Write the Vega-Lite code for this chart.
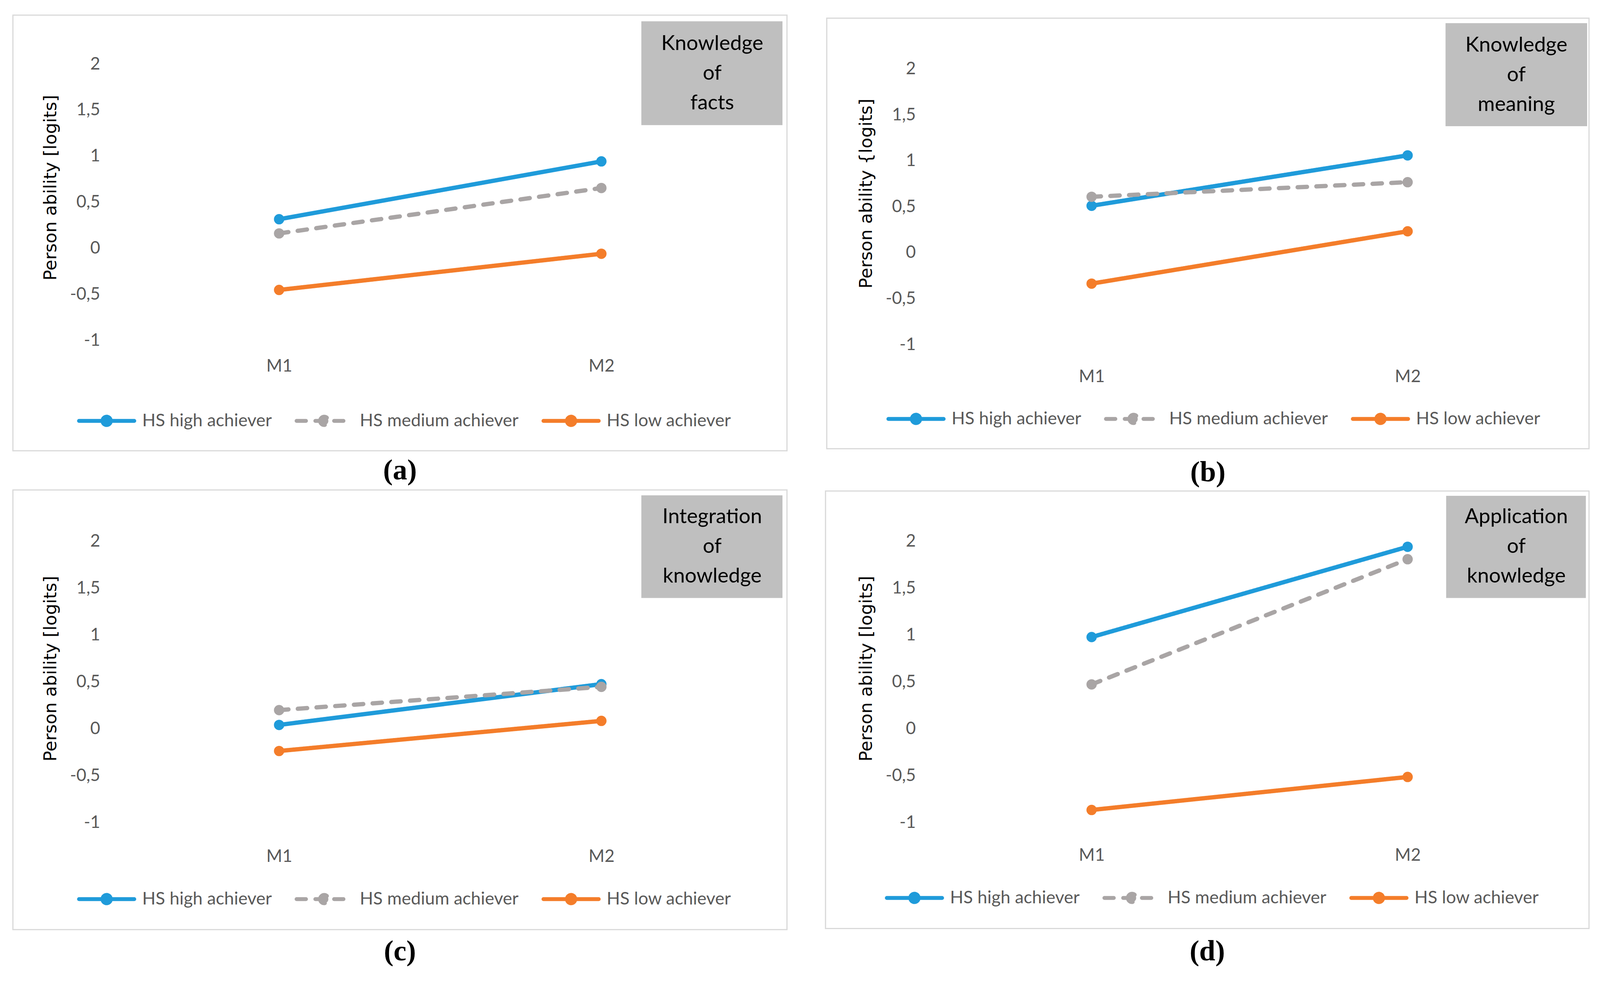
{
  "$schema": "https://vega.github.io/schema/vega-lite/v6.json",
  "background": "white",
  "padding": {"left": 31, "top": 37, "right": 0, "bottom": 0},
  "datasets": {
    "pts": [
      {"panel": "a", "session": "M1", "group": "HS high achiever", "value": 0.315},
      {"panel": "a", "session": "M2", "group": "HS high achiever", "value": 0.943},
      {"panel": "a", "session": "M1", "group": "HS medium achiever", "value": 0.161},
      {"panel": "a", "session": "M2", "group": "HS medium achiever", "value": 0.654},
      {"panel": "a", "session": "M1", "group": "HS low achiever", "value": -0.453},
      {"panel": "a", "session": "M2", "group": "HS low achiever", "value": -0.06},
      {"panel": "b", "session": "M1", "group": "HS high achiever", "value": 0.512},
      {"panel": "b", "session": "M2", "group": "HS high achiever", "value": 1.061},
      {"panel": "b", "session": "M1", "group": "HS medium achiever", "value": 0.61},
      {"panel": "b", "session": "M2", "group": "HS medium achiever", "value": 0.769},
      {"panel": "b", "session": "M1", "group": "HS low achiever", "value": -0.336},
      {"panel": "b", "session": "M2", "group": "HS low achiever", "value": 0.234},
      {"panel": "c", "session": "M1", "group": "HS high achiever", "value": 0.04},
      {"panel": "c", "session": "M2", "group": "HS high achiever", "value": 0.475},
      {"panel": "c", "session": "M1", "group": "HS medium achiever", "value": 0.198},
      {"panel": "c", "session": "M2", "group": "HS medium achiever", "value": 0.446},
      {"panel": "c", "session": "M1", "group": "HS low achiever", "value": -0.238},
      {"panel": "c", "session": "M2", "group": "HS low achiever", "value": 0.083},
      {"panel": "d", "session": "M1", "group": "HS high achiever", "value": 0.977},
      {"panel": "d", "session": "M2", "group": "HS high achiever", "value": 1.94},
      {"panel": "d", "session": "M1", "group": "HS medium achiever", "value": 0.472},
      {"panel": "d", "session": "M2", "group": "HS medium achiever", "value": 1.807},
      {"panel": "d", "session": "M1", "group": "HS low achiever", "value": -0.867},
      {"panel": "d", "session": "M2", "group": "HS low achiever", "value": -0.515}
    ]
  },
  "columns": 2,
  "align": "each",
  "spacing": {"row": 4, "column": 94},
  "concat": [
    {
      "width": 1650, "height": 707,
      "title": {"text": "(a)"},
      "layer": [
        {
          "data": {"values": [{"frame": 1}]},
          "mark": {"type": "rect", "fill": "transparent", "stroke": "#D9D9D9", "strokeWidth": 3},
          "encoding": {
            "x": {"datum": -0.163, "type": "quantitative", "scale": {"domain": [0, 1]}, "axis": null},
            "x2": {"datum": 1.038},
            "y": {"datum": 1.177, "type": "quantitative", "scale": {"domain": [0, 1]}, "axis": null},
            "y2": {"datum": -0.4}
          }
        },
        {
          "data": {"values": [{"box": 1}]},
          "mark": {"type": "rect", "fill": "#BFBFBF"},
          "encoding": {
            "x": {"datum": 0.812, "type": "quantitative", "scale": {"domain": [0, 1]}, "axis": null},
            "x2": {"datum": 1.031},
            "y": {"datum": 1.155, "type": "quantitative", "scale": {"domain": [0, 1]}, "axis": null},
            "y2": {"datum": 0.779}
          }
        },
        {
          "data": {"values": [{"label": ["Knowledge", "of", "facts"]}]},
          "mark": {"type": "text", "font": "Lato", "fontSize": 53, "color": "#000000", "align": "center", "baseline": "middle", "lineHeight": 76},
          "encoding": {
            "x": {"datum": 0.922, "type": "quantitative", "scale": {"domain": [0, 1]}, "axis": null},
            "y": {"datum": 1.074, "type": "quantitative", "scale": {"domain": [0, 1]}, "axis": null},
            "text": {"field": "label", "type": "nominal"}
          }
        },
        {
          "data": {"name": "pts"},
          "transform": [{"filter": "datum.panel === 'a'"}],
          "mark": {"type": "line", "strokeWidth": 11, "strokeCap": "round", "point": {"filled": true, "size": 700, "opacity": 1}},
          "encoding": {
            "x": {"field": "session", "type": "nominal", "scale": {"type": "point", "padding": 0.5}, "axis": {"title": null, "labelPadding": 44}},
            "y": {"field": "value", "type": "quantitative", "scale": {"domain": [-1, 2], "nice": false, "zero": false}, "axis": {"title": "Person ability [logits]", "titleY": 316, "values": [-1, -0.5, 0, 0.5, 1, 1.5, 2], "labelExpr": "replace(toString(datum.value), '.', ',')"}},
            "color": {"field": "group", "type": "nominal", "scale": {"domain": ["HS high achiever", "HS medium achiever", "HS low achiever"], "range": ["#1F9BDA", "#A9A5A5", "#F47D2A"]},
              "legend": {"orient": "none", "legendX": -105, "legendY": 837,
                "encode": {"symbols": {"update": {
                  "fill": {"signal": "datum.value === 'HS high achiever' ? '#1F9BDA' : datum.value === 'HS medium achiever' ? '#A9A5A5' : '#F47D2A'"},
                  "strokeDash": {"signal": "datum.value === 'HS medium achiever' ? [32, 22] : [1, 0]"},
                  "strokeCap": {"value": "round"}}}}}},
            "strokeDash": {"field": "group", "type": "nominal", "scale": {"domain": ["HS high achiever", "HS medium achiever", "HS low achiever"], "range": [[1, 0], [24, 24], [1, 0]]}, "legend": null}
          }
        }
      ],
      "resolve": {"scale": {"x": "independent", "y": "independent"}}
    },
    {
      "width": 1618, "height": 718,
      "title": {"text": "(b)", "offset": 24},
      "layer": [
        {
          "data": {"values": [{"frame": 1}]},
          "mark": {"type": "rect", "fill": "transparent", "stroke": "#D9D9D9", "strokeWidth": 3},
          "encoding": {
            "x": {"datum": -0.169, "type": "quantitative", "scale": {"domain": [0, 1]}, "axis": null},
            "x2": {"datum": 1.037},
            "y": {"datum": 1.1635, "type": "quantitative", "scale": {"domain": [0, 1]}, "axis": null},
            "y2": {"datum": -0.3712}
          }
        },
        {
          "data": {"values": [{"box": 1}]},
          "mark": {"type": "rect", "fill": "#BFBFBF"},
          "encoding": {
            "x": {"datum": 0.81, "type": "quantitative", "scale": {"domain": [0, 1]}, "axis": null},
            "x2": {"datum": 1.034},
            "y": {"datum": 1.1459, "type": "quantitative", "scale": {"domain": [0, 1]}, "axis": null},
            "y2": {"datum": 0.7786}
          }
        },
        {
          "data": {"values": [{"label": ["Knowledge", "of", "meaning"]}]},
          "mark": {"type": "text", "font": "Lato", "fontSize": 53, "color": "#000000", "align": "center", "baseline": "middle", "lineHeight": 76},
          "encoding": {
            "x": {"datum": 0.922, "type": "quantitative", "scale": {"domain": [0, 1]}, "axis": null},
            "y": {"datum": 1.0673, "type": "quantitative", "scale": {"domain": [0, 1]}, "axis": null},
            "text": {"field": "label", "type": "nominal"}
          }
        },
        {
          "data": {"name": "pts"},
          "transform": [{"filter": "datum.panel === 'b'"}],
          "mark": {"type": "line", "strokeWidth": 11, "strokeCap": "round", "point": {"filled": true, "size": 700, "opacity": 1}},
          "encoding": {
            "x": {"field": "session", "type": "nominal", "scale": {"type": "point", "padding": 0.5}, "axis": {"title": null, "labelPadding": 60}},
            "y": {"field": "value", "type": "quantitative", "scale": {"domain": [-1, 2.0553], "nice": false, "zero": false}, "axis": {"title": "Person ability {logits]", "titleY": 331, "values": [-1, -0.5, 0, 0.5, 1, 1.5, 2], "labelExpr": "replace(toString(datum.value), '.', ',')"}},
            "color": {"field": "group", "type": "nominal", "scale": {"domain": ["HS high achiever", "HS medium achiever", "HS low achiever"], "range": ["#1F9BDA", "#A9A5A5", "#F47D2A"]},
              "legend": {"orient": "none", "legendX": -121, "legendY": 832,
                "encode": {"symbols": {"update": {
                  "fill": {"signal": "datum.value === 'HS high achiever' ? '#1F9BDA' : datum.value === 'HS medium achiever' ? '#A9A5A5' : '#F47D2A'"},
                  "strokeDash": {"signal": "datum.value === 'HS medium achiever' ? [32, 22] : [1, 0]"},
                  "strokeCap": {"value": "round"}}}}}},
            "strokeDash": {"field": "group", "type": "nominal", "scale": {"domain": ["HS high achiever", "HS medium achiever", "HS low achiever"], "range": [[1, 0], [24, 24], [1, 0]]}, "legend": null}
          }
        }
      ],
      "resolve": {"scale": {"x": "independent", "y": "independent"}}
    },
    {
      "width": 1650, "height": 720,
      "title": {"text": "(c)", "offset": 19},
      "layer": [
        {
          "data": {"values": [{"frame": 1}]},
          "mark": {"type": "rect", "fill": "transparent", "stroke": "#D9D9D9", "strokeWidth": 3},
          "encoding": {
            "x": {"datum": -0.163, "type": "quantitative", "scale": {"domain": [0, 1]}, "axis": null},
            "x2": {"datum": 1.038},
            "y": {"datum": 1.182, "type": "quantitative", "scale": {"domain": [0, 1]}, "axis": null},
            "y2": {"datum": -0.381}
          }
        },
        {
          "data": {"values": [{"box": 1}]},
          "mark": {"type": "rect", "fill": "#BFBFBF"},
          "encoding": {
            "x": {"datum": 0.812, "type": "quantitative", "scale": {"domain": [0, 1]}, "axis": null},
            "x2": {"datum": 1.031},
            "y": {"datum": 1.163, "type": "quantitative", "scale": {"domain": [0, 1]}, "axis": null},
            "y2": {"datum": 0.798}
          }
        },
        {
          "data": {"values": [{"label": ["Integration", "of", "knowledge"]}]},
          "mark": {"type": "text", "font": "Lato", "fontSize": 53, "color": "#000000", "align": "center", "baseline": "middle", "lineHeight": 76},
          "encoding": {
            "x": {"datum": 0.922, "type": "quantitative", "scale": {"domain": [0, 1]}, "axis": null},
            "y": {"datum": 1.086, "type": "quantitative", "scale": {"domain": [0, 1]}, "axis": null},
            "text": {"field": "label", "type": "nominal"}
          }
        },
        {
          "data": {"name": "pts"},
          "transform": [{"filter": "datum.panel === 'c'"}],
          "mark": {"type": "line", "strokeWidth": 11, "strokeCap": "round", "point": {"filled": true, "size": 700, "opacity": 1}},
          "encoding": {
            "x": {"field": "session", "type": "nominal", "scale": {"type": "point", "padding": 0.5}, "axis": {"title": null, "labelPadding": 65}},
            "y": {"field": "value", "type": "quantitative", "scale": {"domain": [-1, 2], "nice": false, "zero": false}, "axis": {"title": "Person ability [logits]", "titleY": 326, "values": [-1, -0.5, 0, 0.5, 1, 1.5, 2], "labelExpr": "replace(toString(datum.value), '.', ',')"}},
            "color": {"field": "group", "type": "nominal", "scale": {"domain": ["HS high achiever", "HS medium achiever", "HS low achiever"], "range": ["#1F9BDA", "#A9A5A5", "#F47D2A"]},
              "legend": {"orient": "none", "legendX": -105, "legendY": 840,
                "encode": {"symbols": {"update": {
                  "fill": {"signal": "datum.value === 'HS high achiever' ? '#1F9BDA' : datum.value === 'HS medium achiever' ? '#A9A5A5' : '#F47D2A'"},
                  "strokeDash": {"signal": "datum.value === 'HS medium achiever' ? [32, 22] : [1, 0]"},
                  "strokeCap": {"value": "round"}}}}}},
            "strokeDash": {"field": "group", "type": "nominal", "scale": {"domain": ["HS high achiever", "HS medium achiever", "HS low achiever"], "range": [[1, 0], [24, 24], [1, 0]]}, "legend": null}
          }
        }
      ],
      "resolve": {"scale": {"x": "independent", "y": "independent"}}
    },
    {
      "width": 1618, "height": 720,
      "title": {"text": "(d)", "offset": 22},
      "layer": [
        {
          "data": {"values": [{"frame": 1}]},
          "mark": {"type": "rect", "fill": "transparent", "stroke": "#D9D9D9", "strokeWidth": 3},
          "encoding": {
            "x": {"datum": -0.171, "type": "quantitative", "scale": {"domain": [0, 1]}, "axis": null},
            "x2": {"datum": 1.037},
            "y": {"datum": 1.178, "type": "quantitative", "scale": {"domain": [0, 1]}, "axis": null},
            "y2": {"datum": -0.377}
          }
        },
        {
          "data": {"values": [{"box": 1}]},
          "mark": {"type": "rect", "fill": "#BFBFBF"},
          "encoding": {
            "x": {"datum": 0.811, "type": "quantitative", "scale": {"domain": [0, 1]}, "axis": null},
            "x2": {"datum": 1.032},
            "y": {"datum": 1.161, "type": "quantitative", "scale": {"domain": [0, 1]}, "axis": null},
            "y2": {"datum": 0.798}
          }
        },
        {
          "data": {"values": [{"label": ["Application", "of", "knowledge"]}]},
          "mark": {"type": "text", "font": "Lato", "fontSize": 53, "color": "#000000", "align": "center", "baseline": "middle", "lineHeight": 76},
          "encoding": {
            "x": {"datum": 0.922, "type": "quantitative", "scale": {"domain": [0, 1]}, "axis": null},
            "y": {"datum": 1.086, "type": "quantitative", "scale": {"domain": [0, 1]}, "axis": null},
            "text": {"field": "label", "type": "nominal"}
          }
        },
        {
          "data": {"name": "pts"},
          "transform": [{"filter": "datum.panel === 'd'"}],
          "mark": {"type": "line", "strokeWidth": 11, "strokeCap": "round", "point": {"filled": true, "size": 700, "opacity": 1}},
          "encoding": {
            "x": {"field": "session", "type": "nominal", "scale": {"type": "point", "padding": 0.5}, "axis": {"title": null, "labelPadding": 62}},
            "y": {"field": "value", "type": "quantitative", "scale": {"domain": [-1, 2], "nice": false, "zero": false}, "axis": {"title": "Person ability [logits]", "titleY": 326, "values": [-1, -0.5, 0, 0.5, 1, 1.5, 2], "labelExpr": "replace(toString(datum.value), '.', ',')"}},
            "color": {"field": "group", "type": "nominal", "scale": {"domain": ["HS high achiever", "HS medium achiever", "HS low achiever"], "range": ["#1F9BDA", "#A9A5A5", "#F47D2A"]},
              "legend": {"orient": "none", "legendX": -125, "legendY": 837,
                "encode": {"symbols": {"update": {
                  "fill": {"signal": "datum.value === 'HS high achiever' ? '#1F9BDA' : datum.value === 'HS medium achiever' ? '#A9A5A5' : '#F47D2A'"},
                  "strokeDash": {"signal": "datum.value === 'HS medium achiever' ? [32, 22] : [1, 0]"},
                  "strokeCap": {"value": "round"}}}}}},
            "strokeDash": {"field": "group", "type": "nominal", "scale": {"domain": ["HS high achiever", "HS medium achiever", "HS low achiever"], "range": [[1, 0], [24, 24], [1, 0]]}, "legend": null}
          }
        }
      ],
      "resolve": {"scale": {"x": "independent", "y": "independent"}}
    }
  ],
  "resolve": {"scale": {"color": "independent", "strokeDash": "independent"}, "legend": {"color": "independent"}},
  "config": {
    "view": {"stroke": null},
    "axis": {"labelFont": "Lato", "labelFontSize": 44, "labelColor": "#595959", "ticks": false, "domain": false, "gridColor": "#D9D9D9", "gridWidth": 3, "titleFont": "DejaVu Sans", "titleFontSize": 45, "titleFontWeight": "normal", "titleColor": "#000000"},
    "axisX": {"grid": false, "labelAngle": 0},
    "axisY": {"grid": true, "labelPadding": 46, "titlePadding": 26},
    "legend": {"direction": "horizontal", "title": null, "padding": 0, "symbolType": "M-1,0H1M-0.15,0A0.15,0.15,0,1,1,0.15,0A0.15,0.15,0,1,1,-0.15,0Z", "symbolSize": 20000, "symbolStrokeWidth": 10, "labelFont": "Lato", "labelFontSize": 45, "labelColor": "#595959", "labelOffset": 15, "columnPadding": 43, "labelLimit": 600},
    "title": {"orient": "bottom", "anchor": "middle", "frame": "bounds", "offset": 14, "font": "Liberation Serif", "fontSize": 74, "fontWeight": "bold", "color": "#000000"}
  }
}
